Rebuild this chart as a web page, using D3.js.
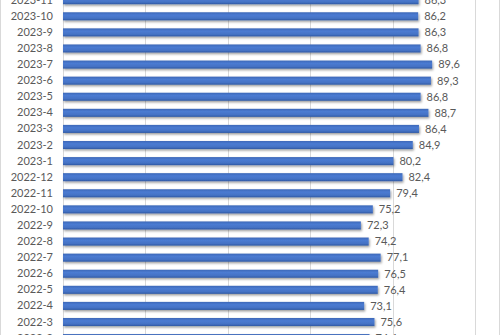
<!DOCTYPE html>
<html>
<head>
<meta charset="utf-8">
<script src="https://cdn.jsdelivr.net/npm/d3@7"></script>
<style>
  html, body { margin: 0; padding: 0; background: #fff; }
  #vis { width: 500px; height: 335px; overflow: hidden; }
</style>
</head>
<body>
<div id="vis"></div>
<script>
var width = 500;
var height = 335;

// months, top to bottom as shown
var months = ["2023-11", "2023-10", "2023-9", "2023-8", "2023-7", "2023-6", "2023-5", "2023-4",
  "2023-3", "2023-2", "2023-1", "2022-12", "2022-11", "2022-10", "2022-9", "2022-8",
  "2022-7", "2022-6", "2022-5", "2022-4", "2022-3", "2022-2"];
var values = [86.3, 86.2, 86.3, 86.8, 89.6, 89.3, 86.8, 88.7,
  86.4, 84.9, 80.2, 82.4, 79.4, 75.2, 72.3, 74.2,
  77.1, 76.5, 76.4, 73.1, 75.6, 74.4];
var xTicks = [0, 20, 40, 60, 80, 100];

var data = months.map((m, i) => ({ month: m, value: values[i] }));

var svg = d3.select("#vis")
  .append("svg")
  .attr("width", width)
  .attr("height", height)
  .style("font-family", "Lato, 'Liberation Sans', sans-serif");

var defs = svg.append("defs");
var grad = defs.append("linearGradient")
  .attr("id", "barGrad")
  .attr("x1", 0).attr("y1", 0).attr("x2", 0).attr("y2", 1);
grad.append("stop").attr("offset", "0%").attr("stop-color", "#3d68b8");
grad.append("stop").attr("offset", "35%").attr("stop-color", "#4b7bd2");
grad.append("stop").attr("offset", "75%").attr("stop-color", "#4472c4");
grad.append("stop").attr("offset", "100%").attr("stop-color", "#2f58a3");

var shadow = defs.append("filter")
  .attr("id", "shadow")
  .attr("x", "-5%").attr("y", "-50%")
  .attr("width", "110%").attr("height", "220%");
shadow.append("feDropShadow")
  .attr("dx", 1).attr("dy", 1.5)
  .attr("stdDeviation", 1)
  .attr("flood-color", "#000")
  .attr("flood-opacity", 0.4);

// chart border
svg.append("rect")
  .attr("x", 0.5).attr("y", -5)
  .attr("width", width - 1).attr("height", height + 10)
  .attr("fill", "none")
  .attr("stroke", "#d9d9d9");

var step = 16.09;
var top0 = 0.2 - step / 2;

var x = d3.scaleLinear()
  .domain([0, 100])
  .range([63, 475]);

var y = d3.scaleBand()
  .domain(months)
  .range([top0, top0 + step * months.length])
  .paddingInner(0.5)
  .paddingOuter(0.25);

// gridlines
svg.append("g")
  .selectAll("line")
  .data(xTicks)
  .join("line")
  .attr("x1", d => Math.round(x(d)) + 0.5)
  .attr("x2", d => Math.round(x(d)) + 0.5)
  .attr("y1", -5)
  .attr("y2", height + 5)
  .attr("stroke", "#d9d9d9")
  .attr("stroke-width", 1);

// category axis
var yAxis = d3.axisLeft(y).tickSize(0).tickPadding(10);
var axis = svg.append("g")
  .attr("transform", `translate(${x(0)}, 0)`)
  .call(yAxis);
axis.select(".domain").remove();
axis.selectAll("text")
  .style("font-family", "Lato, 'Liberation Sans', sans-serif")
  .style("font-size", "11px")
  .style("fill", "#595959");

// bars
svg.append("g")
  .selectAll("rect")
  .data(data)
  .join("rect")
  .attr("x", x(0))
  .attr("y", d => y(d.month))
  .attr("width", d => x(d.value) - x(0))
  .attr("height", y.bandwidth())
  .attr("fill", "url(#barGrad)")
  .attr("filter", "url(#shadow)");

// value labels
var fmt = d3.formatLocale({ decimal: ",", thousands: ".", grouping: [3], currency: ["", ""] }).format(".1f");
svg.append("g")
  .selectAll("text")
  .data(data)
  .join("text")
  .attr("x", d => x(d.value) + 6)
  .attr("y", d => y(d.month) + y.bandwidth() / 2)
  .attr("dy", "0.35em")
  .style("font-size", "11px")
  .style("fill", "#595959")
  .text(d => fmt(d.value));
</script>
</body>
</html>
